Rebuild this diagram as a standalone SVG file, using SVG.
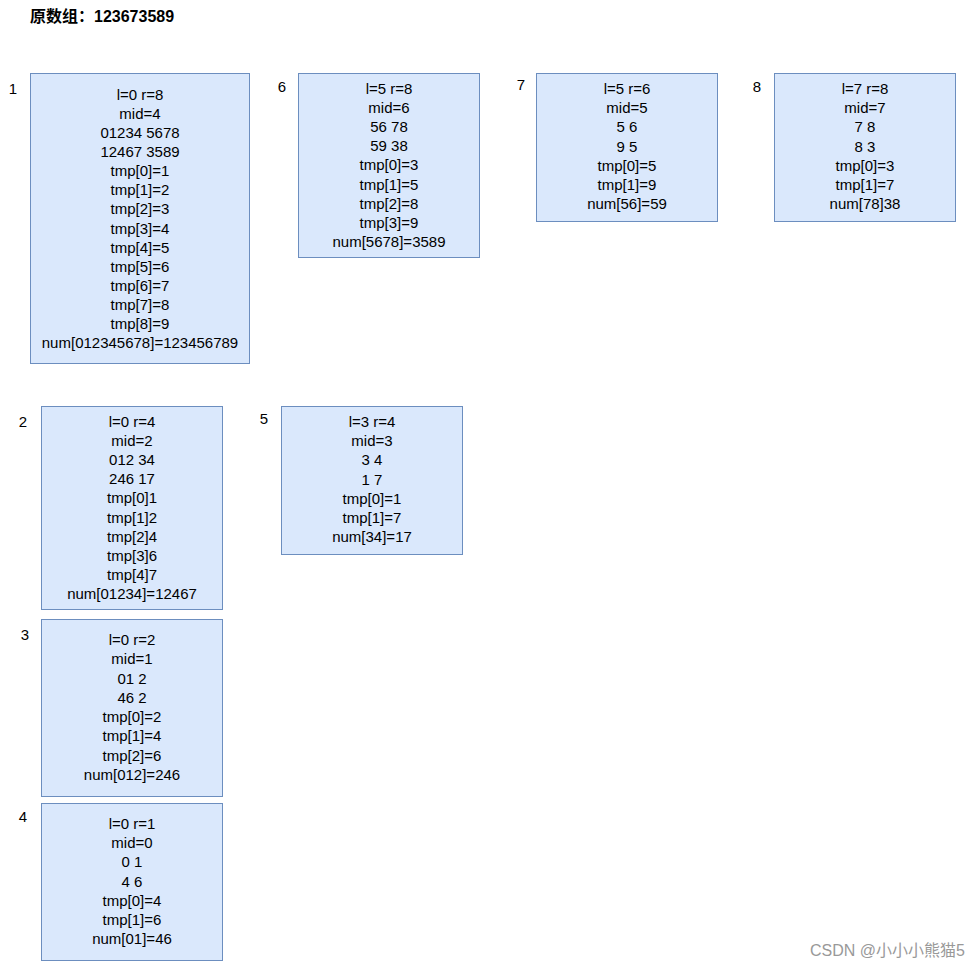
<svg xmlns="http://www.w3.org/2000/svg" width="979" height="972" viewBox="0 0 979 972">
<style>
.b{fill:#dae8fc;stroke:#6c8ebf;stroke-width:1}
.t{font-family:"Liberation Sans",Arial,sans-serif;font-size:15px;fill:#000;text-anchor:middle;dominant-baseline:central}
.n{font-family:"Liberation Sans",Arial,sans-serif;font-size:15px;fill:#000;text-anchor:middle;dominant-baseline:central}
</style>
<rect width="979" height="972" fill="#fff"/>
<text x="30" y="16" style="font-family:'Liberation Sans','Noto Sans CJK SC',sans-serif;font-size:16px;font-weight:bold;dominant-baseline:central">原数组：123673589</text>
<g id="node1">
<rect class="b" x="30.5" y="73.5" width="219" height="290"/>
<text class="n" x="13" y="88">1</text>
<text class="t" x="140" y="94">l=0 r=8<tspan x="140" dy="19.08">mid=4</tspan><tspan x="140" dy="19.08">01234 5678</tspan><tspan x="140" dy="19.08">12467 3589</tspan><tspan x="140" dy="19.08">tmp[0]=1</tspan><tspan x="140" dy="19.08">tmp[1]=2</tspan><tspan x="140" dy="19.08">tmp[2]=3</tspan><tspan x="140" dy="19.08">tmp[3]=4</tspan><tspan x="140" dy="19.08">tmp[4]=5</tspan><tspan x="140" dy="19.08">tmp[5]=6</tspan><tspan x="140" dy="19.08">tmp[6]=7</tspan><tspan x="140" dy="19.08">tmp[7]=8</tspan><tspan x="140" dy="19.08">tmp[8]=9</tspan><tspan x="140" dy="19.08">num[012345678]=123456789</tspan></text>
</g>
<g id="node6">
<rect class="b" x="298.5" y="73.5" width="181" height="184"/>
<text class="n" x="282" y="86">6</text>
<text class="t" x="389" y="88">l=5 r=8<tspan x="389" dy="19.12">mid=6</tspan><tspan x="389" dy="19.12">56 78</tspan><tspan x="389" dy="19.12">59 38</tspan><tspan x="389" dy="19.12">tmp[0]=3</tspan><tspan x="389" dy="19.12">tmp[1]=5</tspan><tspan x="389" dy="19.12">tmp[2]=8</tspan><tspan x="389" dy="19.12">tmp[3]=9</tspan><tspan x="389" dy="19.12">num[5678]=3589</tspan></text>
</g>
<g id="node7">
<rect class="b" x="536.5" y="73.5" width="181" height="148"/>
<text class="n" x="521" y="84">7</text>
<text class="t" x="627" y="88">l=5 r=6<tspan x="627" dy="19.17">mid=5</tspan><tspan x="627" dy="19.17">5 6</tspan><tspan x="627" dy="19.17">9 5</tspan><tspan x="627" dy="19.17">tmp[0]=5</tspan><tspan x="627" dy="19.17">tmp[1]=9</tspan><tspan x="627" dy="19.17">num[56]=59</tspan></text>
</g>
<g id="node8">
<rect class="b" x="774.5" y="73.5" width="181" height="148"/>
<text class="n" x="757" y="86">8</text>
<text class="t" x="865" y="88">l=7 r=8<tspan x="865" dy="19.17">mid=7</tspan><tspan x="865" dy="19.17">7 8</tspan><tspan x="865" dy="19.17">8 3</tspan><tspan x="865" dy="19.17">tmp[0]=3</tspan><tspan x="865" dy="19.17">tmp[1]=7</tspan><tspan x="865" dy="19.17">num[78]38</tspan></text>
</g>
<g id="node2">
<rect class="b" x="41.5" y="406.5" width="181" height="203"/>
<text class="n" x="23" y="421">2</text>
<text class="t" x="132" y="421">l=0 r=4<tspan x="132" dy="19.11">mid=2</tspan><tspan x="132" dy="19.11">012 34</tspan><tspan x="132" dy="19.11">246 17</tspan><tspan x="132" dy="19.11">tmp[0]1</tspan><tspan x="132" dy="19.11">tmp[1]2</tspan><tspan x="132" dy="19.11">tmp[2]4</tspan><tspan x="132" dy="19.11">tmp[3]6</tspan><tspan x="132" dy="19.11">tmp[4]7</tspan><tspan x="132" dy="19.11">num[01234]=12467</tspan></text>
</g>
<g id="node5">
<rect class="b" x="281.5" y="406.5" width="181" height="148"/>
<text class="n" x="264" y="418">5</text>
<text class="t" x="372" y="421">l=3 r=4<tspan x="372" dy="19.17">mid=3</tspan><tspan x="372" dy="19.17">3 4</tspan><tspan x="372" dy="19.17">1 7</tspan><tspan x="372" dy="19.17">tmp[0]=1</tspan><tspan x="372" dy="19.17">tmp[1]=7</tspan><tspan x="372" dy="19.17">num[34]=17</tspan></text>
</g>
<g id="node3">
<rect class="b" x="41.5" y="619.5" width="181" height="177"/>
<text class="n" x="25" y="634">3</text>
<text class="t" x="132" y="639">l=0 r=2<tspan x="132" dy="19.29">mid=1</tspan><tspan x="132" dy="19.29">01 2</tspan><tspan x="132" dy="19.29">46 2</tspan><tspan x="132" dy="19.29">tmp[0]=2</tspan><tspan x="132" dy="19.29">tmp[1]=4</tspan><tspan x="132" dy="19.29">tmp[2]=6</tspan><tspan x="132" dy="19.29">num[012]=246</tspan></text>
</g>
<g id="node4">
<rect class="b" x="41.5" y="803.5" width="181" height="157"/>
<text class="n" x="23" y="816">4</text>
<text class="t" x="132" y="823">l=0 r=1<tspan x="132" dy="19.17">mid=0</tspan><tspan x="132" dy="19.17">0 1</tspan><tspan x="132" dy="19.17">4 6</tspan><tspan x="132" dy="19.17">tmp[0]=4</tspan><tspan x="132" dy="19.17">tmp[1]=6</tspan><tspan x="132" dy="19.17">num[01]=46</tspan></text>
</g>
<g id="connectors"></g>
<text x="965" y="950" style="font-family:'Liberation Sans','Noto Sans CJK SC',sans-serif;font-size:16px;fill:#999;text-anchor:end;dominant-baseline:central">CSDN @小小小熊猫5</text>
</svg>
